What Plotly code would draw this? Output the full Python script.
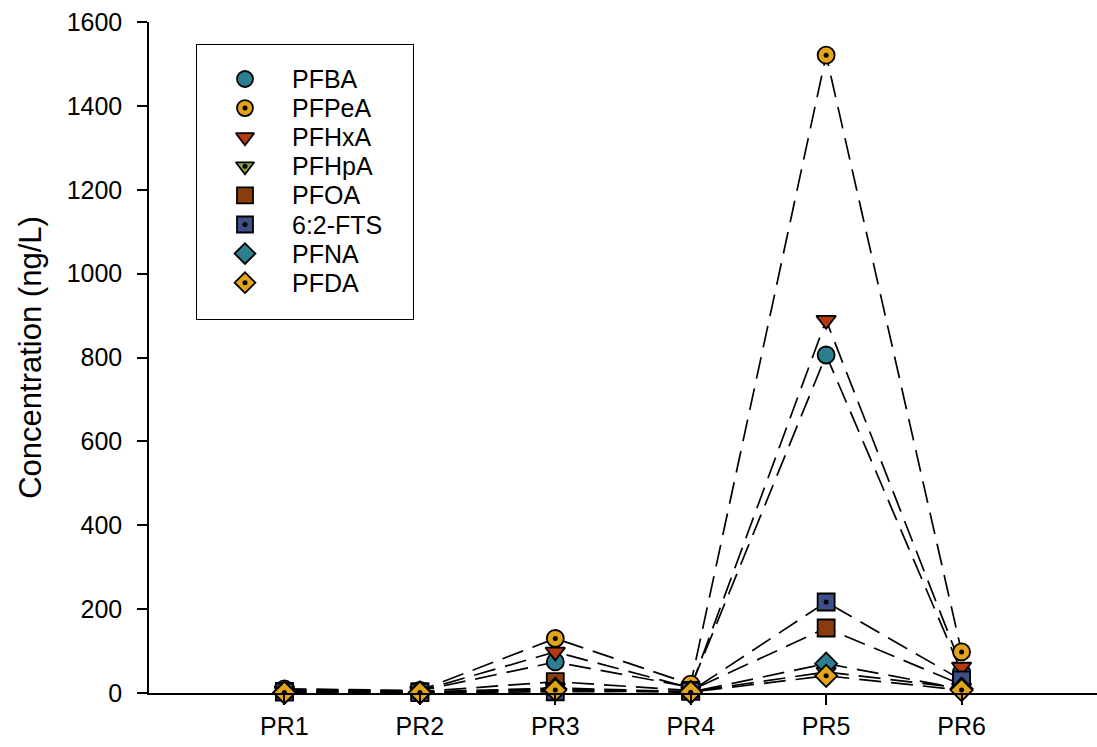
import plotly.graph_objects as go

# Sampling sites and PFAS concentrations (ng/L)
sites = ["PR1", "PR2", "PR3", "PR4", "PR5", "PR6"]
site_pos = [1, 2, 3, 4, 5, 6]

pfba = [8, 5, 74, 14, 806, 50]
pfpea = [10, 6, 130, 21, 1521, 98]
pfhxa = [6, 5, 98, 12, 889, 62]
pfhpa = [3, 2, 12, 3, 50, 12]
pfoa = [4, 3, 27, 6, 155, 20]
fts62 = [2, 1, 3, 4, 217, 31]
pfna = [1, 1, 10, 2, 70, 10]
pfda = [1, 1, 7, 2, 41, 7]

y_ticks = [0, 200, 400, 600, 800, 1000, 1200, 1400, 1600]

# name, values, base symbol, fill colour, centre dot
series = [
    ("PFBA", pfba, "circle", "#2e7e92", False),
    ("PFPeA", pfpea, "circle", "#e2a519", True),
    ("PFHxA", pfhxa, "triangle-down", "#b43a12", False),
    ("PFHpA", pfhpa, "triangle-down", "#8aa83c", True),
    ("PFOA", pfoa, "square", "#8a3c0e", False),
    ("6:2-FTS", fts62, "square", "#3e4f88", True),
    ("PFNA", pfna, "diamond", "#2e7e92", False),
    ("PFDA", pfda, "diamond", "#e2a519", True),
]

FONT = "Liberation Sans, Arial, sans-serif"
MSIZE = 17
OUTLINE = dict(color="black", width=1.8)

fig = go.Figure()

# dashed connecting lines underneath all markers
for name, vals, sym, col, dot in series:
    fig.add_trace(go.Scatter(
        x=site_pos, y=vals, mode="lines", showlegend=False,
        line=dict(color="black", width=1.7, dash="22px,10px"),
        hoverinfo="skip",
    ))

for name, vals, sym, col, dot in series:
    fig.add_trace(go.Scatter(
        x=site_pos, y=vals, mode="markers", name=name, showlegend=False,
        marker=dict(symbol=sym, size=MSIZE, color=col, line=OUTLINE),
        cliponaxis=False,
    ))
    if dot:
        fig.add_trace(go.Scatter(
            x=site_pos, y=vals, mode="markers", showlegend=False,
            marker=dict(symbol="circle", size=5, color="black"),
            cliponaxis=False, hoverinfo="skip",
        ))

# key panel: its own axes, measured in pixels from the panel's top-left
KEY_W, KEY_H = 216, 274
row_y = [34 + 29.1 * i for i in range(len(series))]
for (name, vals, sym, col, dot), ry in zip(series, row_y):
    fig.add_trace(go.Scatter(
        x=[48], y=[ry], mode="markers", xaxis="x2", yaxis="y2",
        showlegend=False, hoverinfo="skip",
        marker=dict(symbol=sym, size=MSIZE - 1, color=col, line=OUTLINE),
    ))
    if dot:
        fig.add_trace(go.Scatter(
            x=[48], y=[ry], mode="markers", xaxis="x2", yaxis="y2",
            showlegend=False, hoverinfo="skip",
            marker=dict(symbol="circle", size=5, color="black"),
        ))
    fig.add_annotation(x=93, y=ry, xref="x2", yref="y2", text=name,
                       showarrow=False, xanchor="left", yanchor="middle",
                       font=dict(family=FONT, size=25, color="black"))

fig.update_layout(
    width=1097, height=747,
    margin=dict(l=149, r=0, t=22, b=54),
    paper_bgcolor="white", plot_bgcolor="white",
    font=dict(family=FONT, color="black", size=24),
    showlegend=False,
    xaxis=dict(
        range=[0, 7], tickmode="array", tickvals=site_pos, ticktext=sites,
        showgrid=False, zeroline=False, showline=True,
        linecolor="black", linewidth=1.5,
        ticks="outside", ticklen=10, tickwidth=1.5, tickcolor="black",
        tickfont=dict(family=FONT, size=25), ticklabelstandoff=0,
    ),
    yaxis=dict(
        range=[0, 1600], tickmode="array", tickvals=y_ticks,
        showgrid=False, zeroline=False, showline=True,
        linecolor="black", linewidth=1.5,
        ticks="outside", ticklen=10, tickwidth=1.5, tickcolor="black",
        tickfont=dict(family=FONT, size=25),
        ticklabelstandoff=10,
        title=dict(text="Concentration (ng/L)",
                   font=dict(family=FONT, size=31), standoff=16),
    ),
    xaxis2=dict(
        domain=[(197 - 149) / 948, (413 - 149) / 948], anchor="y2",
        range=[0, KEY_W], showgrid=False, zeroline=False,
        showticklabels=False, ticks="", showline=True, mirror=True,
        linecolor="black", linewidth=1.2, fixedrange=True,
    ),
    yaxis2=dict(
        domain=[(693 - 319) / 671, (693 - 45) / 671], anchor="x2",
        range=[KEY_H, 0], showgrid=False, zeroline=False,
        showticklabels=False, ticks="", showline=True, mirror=True,
        linecolor="black", linewidth=1.2, fixedrange=True,
    ),
)

fig.write_html("out.html")
